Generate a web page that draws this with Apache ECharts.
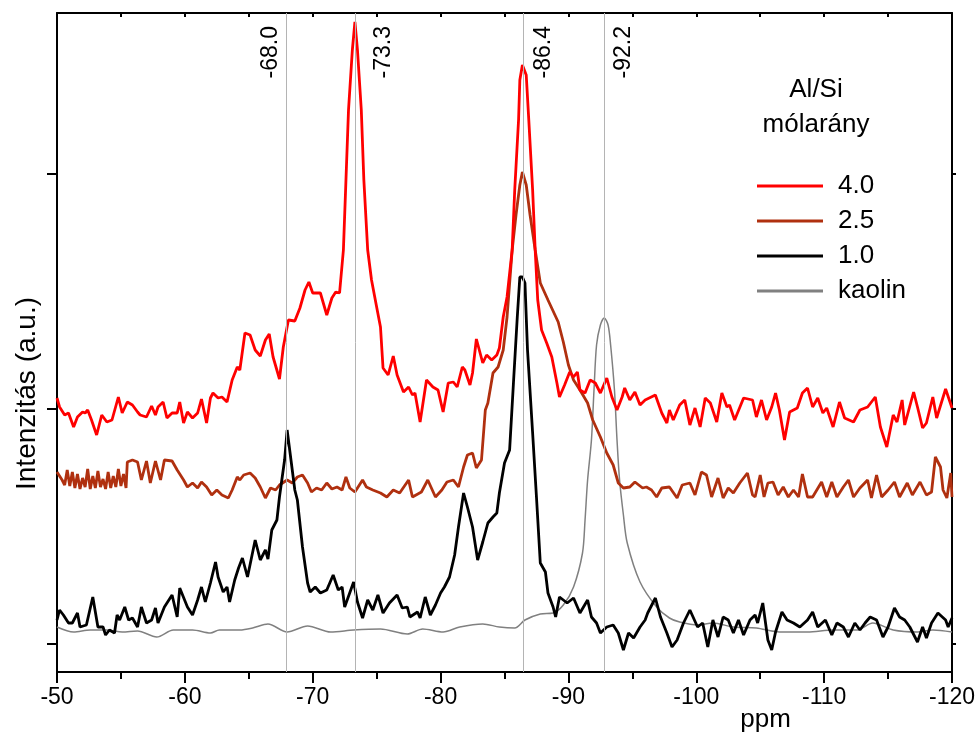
<!DOCTYPE html>
<html>
<head>
<meta charset="utf-8">
<script src="https://cdn.jsdelivr.net/npm/echarts@6/dist/echarts.min.js"></script>
<style>
html,body{margin:0;padding:0;background:#fff}
#main{width:977px;height:733px}
</style>
</head>
<body>
<div id="main"></div>
<script>
// [ppm, intensity a.u.]
var ratio40 = [[-50.0,246],[-50.2,237],[-50.6,229],[-50.9,231],[-51.3,217],[-51.6,227],[-52.0,232],[-52.2,231],[-52.4,234],[-52.7,224],
[-53.1,209],[-53.5,229],[-53.9,222],[-54.3,224],[-54.8,247],[-55.1,231],[-55.5,242],[-55.9,239],[-56.3,232],[-56.5,229],
[-57.0,227],[-57.4,238],[-57.7,229],[-57.9,237],[-58.3,242],[-58.6,226],[-59.0,231],[-59.4,231],[-59.6,242],[-59.9,221],
[-60.2,232],[-60.6,226],[-61.0,231],[-61.3,245],[-61.7,221],[-62.0,246],[-62.2,251],[-62.6,246],[-62.9,247],[-63.3,242],
[-63.7,264],[-64.1,277],[-64.3,274],[-64.7,311],[-65.1,309],[-65.5,294],[-65.9,288],[-66.3,304],[-66.6,310],[-66.9,287],
[-67.4,265],[-67.7,297],[-68.1,324],[-68.6,323],[-69.0,336],[-69.4,354],[-69.7,362],[-70.0,351],[-70.6,351],[-71.1,329],
[-71.5,346],[-71.8,352],[-72.1,351],[-72.4,394],[-72.6,464],[-72.8,534],[-73.1,594],[-73.3,622],[-73.5,594],[-73.8,534],
[-74.0,464],[-74.3,394],[-74.6,364],[-75.0,337],[-75.3,317],[-75.5,276],[-75.9,269],[-76.3,288],[-76.6,269],[-77.1,252],
[-77.5,257],[-77.8,249],[-78.0,251],[-78.4,222],[-78.9,264],[-79.4,257],[-79.8,254],[-80.2,232],[-80.6,261],[-81.0,262],
[-81.3,257],[-81.7,277],[-81.9,274],[-82.3,259],[-82.5,271],[-82.8,305],[-83.3,281],[-83.6,289],[-84.0,284],[-84.4,289],
[-84.6,296],[-84.9,327],[-85.2,347],[-85.6,394],[-85.8,454],[-86.1,524],[-86.2,564],[-86.4,579],[-86.7,569],[-86.9,524],
[-87.2,454],[-87.4,394],[-87.6,344],[-87.9,314],[-88.3,301],[-88.7,287],[-89.1,261],[-89.3,247],[-89.7,259],[-90.1,272],
[-90.4,267],[-90.7,272],[-90.9,254],[-91.3,251],[-91.7,264],[-92.1,261],[-92.5,251],[-93.0,266],[-93.4,247],[-93.8,234],
[-94.2,247],[-94.4,256],[-94.8,244],[-95.2,252],[-95.6,239],[-96.0,244],[-96.8,249],[-97.3,231],[-97.7,221],[-97.9,234],
[-98.2,224],[-98.7,239],[-99.1,244],[-99.5,219],[-99.9,236],[-100.3,217],[-100.7,246],[-101.1,241],[-101.6,222],[-102.0,251],
[-102.4,237],[-102.6,239],[-103.0,224],[-103.7,246],[-104.4,244],[-104.7,227],[-105.1,244],[-105.5,224],[-105.9,237],[-106.2,251],
[-106.5,234],[-106.9,204],[-107.3,232],[-107.9,236],[-108.3,251],[-108.7,256],[-109.1,237],[-109.5,246],[-109.9,231],[-110.2,236],
[-110.7,217],[-111.2,242],[-111.6,226],[-112.3,222],[-112.8,234],[-113.4,237],[-114.0,247],[-114.4,217],[-114.9,197],[-115.4,229],
[-115.7,222],[-116.1,244],[-116.3,219],[-117.0,252],[-117.3,237],[-117.7,216],[-118.0,221],[-118.5,247],[-118.8,226],[-119.5,255],[-120.0,236]];

var ratio25 = [[-50.0,172],[-50.4,164],[-50.6,159],[-50.8,174],[-51.0,158],[-51.2,172],[-51.4,156],[-51.6,170],[-51.8,155],[-52.0,166],
[-52.2,157],[-52.4,175],[-52.6,155],[-52.8,168],[-53.0,156],[-53.2,173],[-53.4,157],[-53.6,165],[-53.8,155],[-54.0,172],
[-54.2,156],[-54.4,168],[-54.6,157],[-54.8,175],[-55.0,158],[-55.2,170],[-55.4,156],[-55.5,182],[-55.9,184],[-56.3,182],
[-56.6,164],[-57.0,183],[-57.3,161],[-57.7,183],[-58.1,164],[-58.4,184],[-59.0,183],[-59.4,174],[-59.9,164],[-60.2,157],
[-60.6,161],[-61.0,156],[-61.3,162],[-61.7,157],[-62.1,149],[-62.5,154],[-62.9,149],[-63.4,146],[-63.7,154],[-64.1,167],
[-64.3,164],[-64.6,169],[-65.1,171],[-65.5,166],[-65.9,157],[-66.3,146],[-66.7,156],[-67.1,154],[-67.4,159],[-68.0,164],
[-68.4,161],[-68.8,167],[-69.2,169],[-69.6,161],[-69.9,152],[-70.3,156],[-70.7,154],[-71.1,161],[-71.5,155],[-71.9,157],
[-72.3,154],[-72.6,167],[-72.9,156],[-73.3,152],[-73.9,164],[-74.2,157],[-74.7,154],[-75.3,151],[-75.8,147],[-76.3,154],
[-76.8,151],[-77.5,164],[-77.8,147],[-78.5,152],[-79.0,164],[-79.6,147],[-80.1,154],[-80.5,162],[-81.0,164],[-81.4,157],
[-81.8,177],[-82.1,189],[-82.5,191],[-82.8,176],[-83.2,184],[-83.5,234],[-83.7,241],[-84.1,271],[-84.5,277],[-84.9,294],
[-85.2,327],[-85.6,394],[-85.9,429],[-86.2,459],[-86.4,472],[-86.7,459],[-87.0,429],[-87.4,394],[-87.8,361],[-88.4,344],
[-89.2,322],[-89.6,302],[-90.0,279],[-90.4,264],[-90.9,254],[-91.5,241],[-91.9,224],[-92.5,207],[-93.0,191],[-93.5,179],
[-93.9,161],[-94.3,156],[-94.8,157],[-95.2,162],[-95.8,156],[-96.1,157],[-96.5,154],[-96.9,147],[-97.3,156],[-97.9,157],
[-98.5,146],[-98.9,159],[-99.5,161],[-99.9,149],[-100.4,172],[-100.8,169],[-101.2,147],[-101.7,166],[-102.1,146],[-102.5,156],
[-102.9,151],[-103.4,161],[-104.0,171],[-104.4,149],[-104.6,147],[-105.0,169],[-105.3,147],[-105.6,161],[-106.0,162],[-106.4,149],
[-106.8,157],[-107.2,147],[-107.6,154],[-108.0,147],[-108.3,170],[-108.7,147],[-109.1,147],[-109.8,162],[-110.2,147],[-110.6,162],
[-111.0,147],[-111.5,157],[-111.9,164],[-112.3,147],[-112.8,156],[-113.4,164],[-113.7,146],[-114.1,169],[-114.5,147],[-115.0,154],
[-115.5,162],[-115.9,147],[-116.5,161],[-116.9,149],[-117.5,162],[-118.0,149],[-118.4,152],[-118.7,187],[-119.1,177],[-119.3,154],
[-119.6,146],[-119.9,171],[-120.0,147]];

var ratio10 = [[-50.0,24],[-50.2,34],[-50.5,29],[-50.9,21],[-51.2,21],[-51.6,31],[-51.8,17],[-52.3,19],[-52.8,47],[-53.2,17],
[-53.6,17],[-53.8,9],[-54.1,14],[-54.5,11],[-54.7,29],[-54.9,24],[-55.3,37],[-55.6,24],[-55.9,26],[-56.3,17],
[-56.6,37],[-57.0,21],[-57.4,24],[-57.7,36],[-57.9,21],[-58.4,37],[-59.0,49],[-59.4,27],[-59.6,56],[-60.2,37],
[-60.6,29],[-61.0,44],[-61.3,57],[-61.6,42],[-62.0,61],[-62.4,82],[-62.6,67],[-63.0,52],[-63.3,57],[-63.5,42],
[-63.9,64],[-64.2,76],[-64.5,86],[-64.9,67],[-65.5,104],[-65.9,84],[-66.3,94],[-66.5,85],[-66.8,114],[-67.2,124],
[-67.4,147],[-67.8,184],[-68.0,214],[-68.3,184],[-68.6,154],[-68.8,144],[-69.2,97],[-69.6,61],[-69.8,52],[-70.2,57],
[-70.6,51],[-71.1,54],[-71.6,69],[-72.0,54],[-72.3,57],[-72.5,37],[-73.2,62],[-73.5,42],[-73.9,26],[-74.3,44],
[-74.7,34],[-75.1,49],[-75.5,31],[-76.0,41],[-76.6,49],[-77.0,36],[-77.4,37],[-77.6,27],[-78.2,32],[-78.4,26],
[-78.8,47],[-79.2,29],[-79.6,39],[-80.0,51],[-80.3,57],[-80.7,67],[-81.1,89],[-81.4,117],[-81.8,151],[-82.1,137],
[-82.5,117],[-82.9,84],[-83.3,102],[-83.7,121],[-84.1,127],[-84.4,131],[-84.6,151],[-85.0,181],[-85.4,194],[-85.7,261],
[-86.0,327],[-86.2,367],[-86.4,367],[-86.6,361],[-86.8,294],[-87.2,211],[-87.5,147],[-87.8,81],[-88.2,72],[-88.4,51],
[-88.8,37],[-89.0,27],[-89.3,47],[-89.9,41],[-90.4,46],[-90.9,31],[-91.5,44],[-91.8,27],[-92.2,21],[-92.5,11],
[-93.0,17],[-93.5,19],[-93.9,11],[-94.3,-6],[-94.7,11],[-95.1,6],[-95.6,17],[-96.0,24],[-96.2,31],[-96.8,46],
[-97.2,27],[-97.7,11],[-98.1,-3],[-98.5,4],[-99.0,21],[-99.5,34],[-100.1,17],[-100.5,21],[-100.9,-3],[-101.3,24],
[-101.7,7],[-102.1,27],[-102.5,24],[-102.9,11],[-103.3,24],[-103.7,9],[-104.2,24],[-104.6,29],[-104.8,21],[-105.2,41],
[-105.6,4],[-105.9,-6],[-106.2,12],[-106.7,32],[-107.1,24],[-107.6,21],[-108.1,17],[-108.7,24],[-109.1,32],[-109.5,17],
[-110.1,24],[-110.6,9],[-111.0,21],[-111.5,17],[-111.9,7],[-112.4,21],[-112.8,14],[-113.2,21],[-113.6,27],[-114.1,24],
[-114.6,7],[-115.0,17],[-115.5,36],[-115.9,27],[-116.3,24],[-116.7,17],[-117.3,2],[-117.7,17],[-118.0,6],[-118.4,21],
[-118.9,31],[-119.5,24],[-119.7,17],[-120.0,26]];

var kaolin = [[-50.0,17],[-51.3,12],[-52.6,14],[-53.9,14],[-55.1,12],[-56.3,13],[-57.8,7],[-59.1,14],[-60.6,14],[-62.0,11],
[-62.7,14],[-64.3,14],[-65.3,16],[-66.5,20],[-68.0,12],[-69.6,18],[-71.4,12],[-73.2,14],[-75.3,15],[-77.4,10],
[-78.6,15],[-80.2,12],[-81.5,17],[-83.3,20],[-84.6,17],[-85.8,16],[-86.6,24],[-87.8,30],[-88.8,31],[-89.6,39],
[-90.4,57],[-91.1,91],[-91.3,124],[-91.5,164],[-91.8,204],[-92.0,254],[-92.2,299],[-92.5,319],[-92.8,326],[-93.1,319],
[-93.3,299],[-93.6,254],[-93.8,204],[-94.0,164],[-94.3,129],[-94.6,101],[-95.6,62],[-96.9,37],[-97.9,26],[-98.7,22],
[-100.1,19],[-101.3,21],[-102.9,17],[-104.7,16],[-106.5,12],[-108.7,12],[-110.7,14],[-112.6,14],[-113.8,21],[-115.4,14],
[-117.3,12],[-118.5,14],[-120.0,12]];

var legendNames = ['4.0', '2.5', '1.0', 'kaolin'];
var peakPos = [-67.9, -73.3, -86.45, -92.8];
var peakText = ['-68.0', '-73.3', '-86.4', '-92.2'];
var yTicks = [0, 235, 470];

var FONT = '"Liberation Sans", Arial, sans-serif';
var black = '#000';

function spectrum(name, data, color, width, smooth) {
	return {
		name: name,
		type: 'line',
		data: data,
		symbol: 'none',
		smooth: smooth || false,
		lineStyle: { color: color, width: width },
		itemStyle: { color: color },
		silent: true
	};
}

// label gap from each peak line (first one sits left of its line)
var labelGap = [4, 17, 9, 8];
var peakLines = [];
for (var i = 0; i < peakPos.length; i++) {
	peakLines.push({
		xAxis: peakPos[i],
		label: {
			formatter: peakText[i],
			position: i == 0 ? 'insideEndTop' : 'insideEndBottom',
			distance: [13, labelGap[i]]
		}
	});
}

var myChart = echarts.init(document.getElementById('main'));
var option = {
	animation: false,
	backgroundColor: '#fff',
	textStyle: { fontFamily: FONT },
	title: {
		text: 'Al/Si\nmólarány',
		left: 811,
		top: 67,
		textAlign: 'center',
		textStyle: { fontSize: 26, fontWeight: 'normal', color: black, lineHeight: 35, fontFamily: FONT }
	},
	legend: {
		orient: 'vertical',
		left: 752,
		top: 168,
		icon: 'rect',
		itemWidth: 66,
		itemHeight: 3,
		itemGap: 9,
		data: legendNames,
		textStyle: { fontSize: 26, color: black, fontFamily: FONT, padding: [0, 0, 0, 10], lineHeight: 26 }
	},
	grid: { left: 57, right: 25, top: 13, bottom: 61, outerBoundsMode: 'none' },
	xAxis: [
		{
			type: 'value', position: 'bottom', min: -120, max: -50, interval: 10, inverse: true,
			axisLine: { onZero: false, lineStyle: { color: black, width: 2 } },
			axisTick: { length: 11, lineStyle: { color: black, width: 2 } },
			minorTick: { show: true, splitNumber: 2, length: 7, lineStyle: { color: black, width: 2 } },
			splitLine: { show: false },
			axisLabel: { fontSize: 23, color: black, fontFamily: FONT, margin: 14 },
			name: 'ppm', nameLocation: 'middle', nameGap: 35, nameMoveOverlap: false,
			nameTextStyle: { fontSize: 26, color: black, fontFamily: FONT, padding: [0, 0, 0, 522] }
		},
		{
			type: 'value', position: 'top', min: -120, max: -50, interval: 5, inverse: true,
			axisLine: { onZero: false, lineStyle: { color: black, width: 2 } },
			axisTick: { inside: true, length: 4, lineStyle: { color: black, width: 2 } },
			axisLabel: { show: false },
			splitLine: { show: false }
		}
	],
	yAxis: [
		{
			type: 'value', position: 'left', min: -28, max: 631,
			axisLine: { show: true, onZero: false, lineStyle: { color: black, width: 2 } },
			axisTick: { show: true, length: 10, customValues: yTicks, lineStyle: { color: black, width: 2 } },
			axisLabel: { show: false },
			splitLine: { show: false },
			name: 'Intenzitás (a.u.)', nameLocation: 'middle', nameGap: 16, nameMoveOverlap: false,
			nameTextStyle: { fontSize: 28, color: black, fontFamily: FONT, padding: [0, 102, 0, 0] }
		},
		{
			type: 'value', position: 'right', min: -28, max: 631,
			axisLine: { show: true, onZero: false, lineStyle: { color: black, width: 2 } },
			axisTick: { show: true, length: 4, customValues: yTicks, lineStyle: { color: black, width: 2 } },
			axisLabel: { show: false },
			splitLine: { show: false }
		}
	],
	series: [
		{
			name: 'peaks',
			type: 'line',
			data: [],
			silent: true,
			markLine: {
				silent: true,
				symbol: ['none', 'none'],
				lineStyle: { color: '#b4b4b4', width: 1, type: 'solid' },
				label: { color: black, fontSize: 23, fontFamily: FONT },
				data: peakLines
			}
		},
		spectrum('kaolin', kaolin, '#808080', 1.5, 0.3),
		spectrum('2.5', ratio25, '#b0300f', 2.8),
		spectrum('1.0', ratio10, '#000000', 2.8),
		spectrum('4.0', ratio40, '#ff0000', 2.8)
	]
};
myChart.setOption(option);
</script>
</body>
</html>
